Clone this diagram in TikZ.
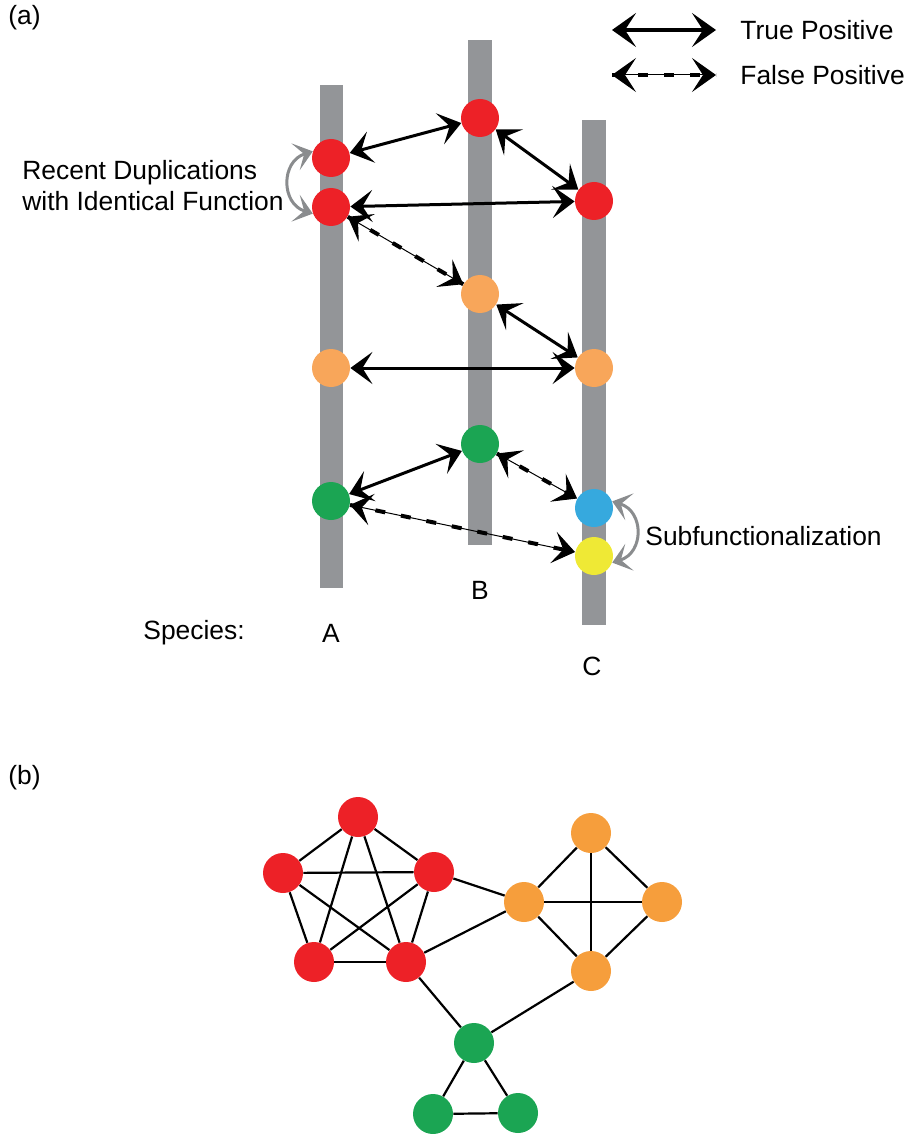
\documentclass[tikz,border=0pt]{standalone}
\usepackage{fontspec}
\setmainfont{Liberation Sans}
\usetikzlibrary{arrows.meta, positioning}

\definecolor{barGray}{HTML}{939598}
\definecolor{curveGray}{HTML}{8A8C8E}
\definecolor{geneRed}{HTML}{ED2127}
\definecolor{geneOrange}{HTML}{F8A65A}
\definecolor{netOrange}{HTML}{F69E3C}
\definecolor{geneGreen}{HTML}{1BA553}
\definecolor{geneBlue}{HTML}{36A9DE}
\definecolor{geneYellow}{HTML}{EFE935}

\tikzstyle{chrom} = [fill=barGray]
\tikzstyle{gene} = [circle, minimum size=19pt, inner sep=0pt]
\tikzstyle{vertex} = [circle, minimum size=20pt, inner sep=0pt]
\tikzstyle{lbl} = [inner sep=0pt, font=\fontsize{13.2}{15.5}\selectfont]
\tikzstyle{truepos} = [<->, line width=1.5pt]
\tikzstyle{falsepos} = [<->, line width=0.5pt, postaction={draw, -, line width=2pt, dash pattern=on 5pt off 8pt}]
\tikzstyle{dup} = [<->, curveGray, line width=1.5pt, >={Stealth[length=9pt, width=14pt, inset=4.5pt]}]
\tikzstyle{link} = [line width=1.1pt]

\begin{document}
\begin{tikzpicture}[x=0.5pt, y=-0.5pt, >={Stealth[length=11pt, width=16pt, inset=5pt]}]
\useasboundingbox (0,0) rectangle (904,1134);

\node (panelA) [lbl, anchor=west] at (8,18) {(a)};
\node (panelB) [lbl, anchor=west] at (8,778) {(b)};

% legend
\coordinate (tpL) at (612,30);
\coordinate (tpR) at (716,30);
\coordinate (fpL) at (612,75);
\coordinate (fpR) at (716,75);
\draw [truepos, line width=1.9pt, >={Stealth[length=12pt, width=17pt, inset=5.5pt]}] (tpL) -- (tpR);
\draw [falsepos, >={Stealth[length=12pt, width=17pt, inset=5.5pt]}] (fpL) -- (fpR);
\node (tpText) [lbl, anchor=west, right=12pt of tpR] {True Positive};
\node (fpText) [lbl, anchor=west, right=12pt of fpR] {False Positive};

% chromosomes
\fill [chrom] (320,85) rectangle (343,588);
\fill [chrom] (468,40) rectangle (492,545);
\fill [chrom] (582,120) rectangle (606,625);

\node (redA1) [gene, fill=geneRed] at (331,158) {};
\node (redA2) [gene, fill=geneRed] at (331,207) {};
\node (redB) [gene, fill=geneRed] at (480,118) {};
\node (redC) [gene, fill=geneRed] at (594,201) {};
\node (orgB) [gene, fill=geneOrange] at (480,294) {};
\node (orgA) [gene, fill=geneOrange] at (331,368) {};
\node (orgC) [gene, fill=geneOrange] at (594,368) {};
\node (grnB) [gene, fill=geneGreen] at (480,444) {};
\node (grnA) [gene, fill=geneGreen] at (331,501) {};
\node (bluC) [gene, fill=geneBlue] at (594,508) {};
\node (yelC) [gene, fill=geneYellow] at (594,556) {};

\draw [truepos] (redA1) -- (redB);
\draw [truepos] (redB) -- (redC);
\draw [truepos] (redA2) -- (redC);
\draw [truepos] (orgB) -- (orgC);
\draw [truepos] (orgA) -- (orgC);
\draw [truepos] (grnA) -- (grnB);
\draw [falsepos] (redA2) -- (orgB);
\draw [falsepos] (grnB) -- (bluC);
\draw [falsepos] (grnA) -- (yelC);

\draw [dup] (redA1.160) .. controls +(-32,10) and +(-32,-10) .. (redA2.200);
\draw [dup] (bluC.20) .. controls +(32,10) and +(32,-10) .. (yelC.-20);

\node (dupText) [lbl, anchor=west, align=left] at (22,186) {Recent Duplications\\with Identical Function};
\node (subText) [lbl, anchor=west] at (645,536) {Subfunctionalization};

\node (spText) [lbl, anchor=west] at (143,633) {Species:};
\node (spA) [lbl] at (331,633) {A};
\node (spB) [lbl] at (480,590) {B};
\node (spC) [lbl] at (592,666) {C};

% network
\node (r1) [vertex, fill=geneRed] at (358,817) {};
\node (r2) [vertex, fill=geneRed] at (283,873) {};
\node (r3) [vertex, fill=geneRed] at (434,872) {};
\node (r4) [vertex, fill=geneRed] at (314,962) {};
\node (r5) [vertex, fill=geneRed] at (406,962) {};
\node (o1) [vertex, fill=netOrange] at (524,902) {};
\node (o2) [vertex, fill=netOrange] at (591,833) {};
\node (o3) [vertex, fill=netOrange] at (662,902) {};
\node (o4) [vertex, fill=netOrange] at (591,971) {};
\node (g1) [vertex, fill=geneGreen] at (474,1043) {};
\node (g2) [vertex, fill=geneGreen] at (433,1114) {};
\node (g3) [vertex, fill=geneGreen] at (518,1113) {};

\foreach \u/\v in {r1/r2, r1/r3, r1/r4, r1/r5, r2/r3, r2/r4, r2/r5, r3/r4, r3/r5, r4/r5,
                   o1/o2, o1/o3, o1/o4, o2/o3, o2/o4, o3/o4, g1/g2, g1/g3, g2/g3,
                   r3/o1, r5/o1, r5/g1, o4/g1}
  \draw [link] (\u) -- (\v);
\end{tikzpicture}
\end{document}
